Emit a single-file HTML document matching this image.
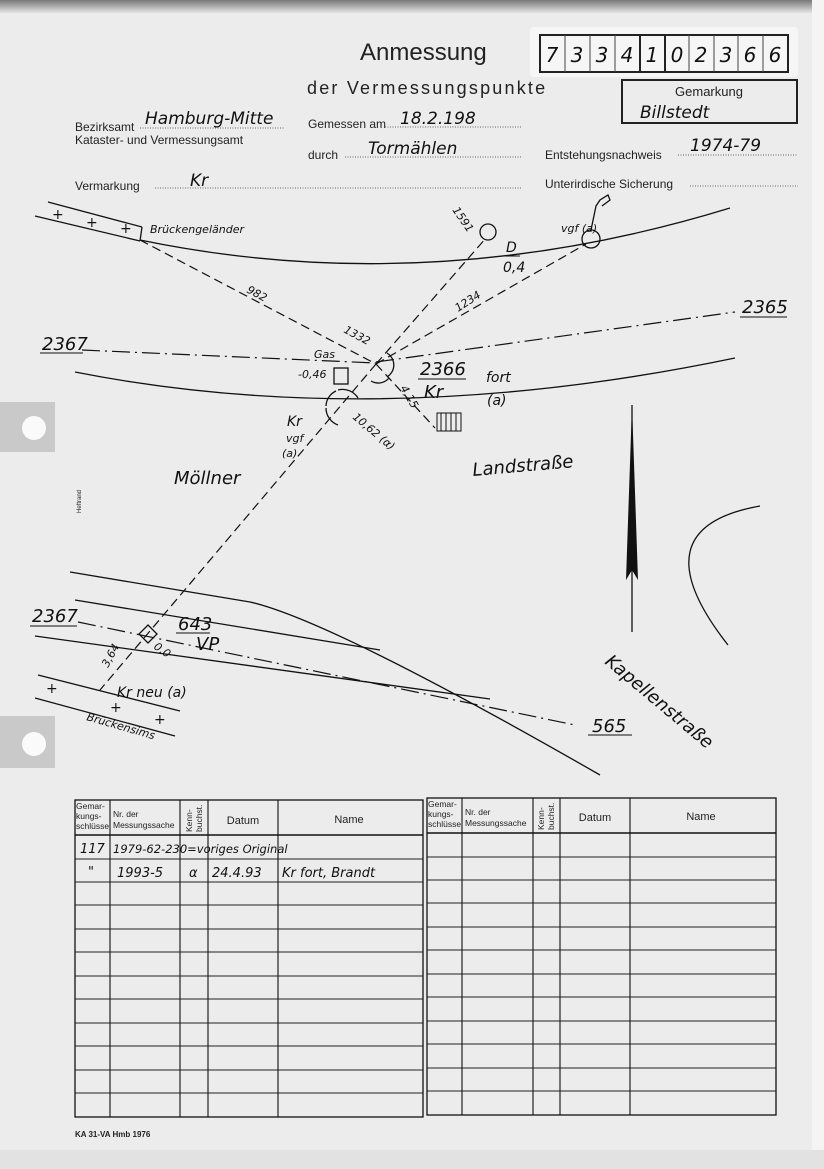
<!DOCTYPE html>
<html><head><meta charset="utf-8"><style>
html,body{margin:0;padding:0;}
body{width:824px;height:1169px;overflow:hidden;background:#ededed;}
svg{display:block}
.p{font-family:"Liberation Sans",sans-serif;fill:#222}
.h{font-family:"DejaVu Sans","Liberation Sans",sans-serif;font-style:oblique;fill:#111}
</style></head><body>
<svg width="824" height="1169" viewBox="0 0 824 1169" xmlns="http://www.w3.org/2000/svg">
<defs><linearGradient id="tg" x1="0" y1="0" x2="0" y2="1"><stop offset="0" stop-color="#777"/><stop offset="1" stop-color="#ededed"/></linearGradient></defs>
<rect x="0" y="0" width="824" height="1169" fill="#ececec"/>
<rect x="0" y="0" width="824" height="14" fill="url(#tg)"/>
<rect x="812" y="0" width="12" height="1169" fill="#f4f4f4"/>
<rect x="0" y="1150" width="824" height="19" fill="#e2e2e2"/>
<!-- left tabs -->
<rect x="0" y="402" width="55" height="50" fill="#c9c9c9"/><ellipse cx="34" cy="428" rx="12" ry="12" fill="#fafafa"/>
<rect x="0" y="716" width="55" height="52" fill="#c9c9c9"/><ellipse cx="34" cy="744" rx="12" ry="12" fill="#fafafa"/>

<!-- header -->
<text x="360" y="60" class="p" font-size="24" fill="#333">Anmessung</text>
<text x="307" y="94" class="p" font-size="18" letter-spacing="2.2">der Vermessungspunkte</text>
<rect x="530" y="27" width="268" height="50" fill="#f6f6f6" rx="4"/>
<rect x="540" y="35" width="248" height="37" fill="none" stroke="#222" stroke-width="2"/>
<g stroke="#444" stroke-width="1">
<line x1="565" y1="35" x2="565" y2="72"/><line x1="590" y1="35" x2="590" y2="72"/><line x1="615" y1="35" x2="615" y2="72"/>
<line x1="689" y1="35" x2="689" y2="72"/><line x1="714" y1="35" x2="714" y2="72"/><line x1="738" y1="35" x2="738" y2="72"/><line x1="763" y1="35" x2="763" y2="72"/>
</g>
<line x1="640" y1="35" x2="640" y2="72" stroke="#222" stroke-width="2"/>
<line x1="665" y1="35" x2="665" y2="72" stroke="#222" stroke-width="2"/>
<g class="h" font-size="20" text-anchor="middle">
<text x="552" y="62">7</text><text x="577" y="62">3</text><text x="602" y="62">3</text><text x="627" y="62">4</text><text x="652" y="62">1</text>
<text x="677" y="62">0</text><text x="701" y="62">2</text><text x="726" y="62">3</text><text x="750" y="62">6</text><text x="775" y="62">6</text>
</g>
<rect x="622" y="80" width="175" height="43" fill="none" stroke="#222" stroke-width="2"/>
<text x="709" y="96" class="p" font-size="13" text-anchor="middle">Gemarkung</text>
<text x="640" y="118" class="h" font-size="17">Billstedt</text>

<g class="p" font-size="12">
<text x="75" y="131">Bezirksamt</text>
<text x="75" y="144">Kataster- und Vermessungsamt</text>
<text x="308" y="128">Gemessen am</text>
<text x="308" y="159">durch</text>
<text x="75" y="190">Vermarkung</text>
<text x="545" y="159">Entstehungsnachweis</text>
<text x="545" y="188">Unterirdische Sicherung</text>
</g>
<g stroke="#666" stroke-width="1" stroke-dasharray="1 1.5">
<line x1="140" y1="128" x2="285" y2="128"/><line x1="385" y1="127" x2="522" y2="127"/>
<line x1="345" y1="157" x2="522" y2="157"/><line x1="155" y1="188" x2="522" y2="188"/>
<line x1="678" y1="155" x2="798" y2="155"/><line x1="690" y1="186" x2="798" y2="186"/>
</g>
<g class="h" font-size="17">
<text x="145" y="124">Hamburg-Mitte</text>
<text x="400" y="124">18.2.198</text>
<text x="368" y="154">Tormählen</text>
<text x="190" y="186">Kr</text>
<text x="690" y="151">1974-79</text>
</g>

<!-- sketch -->
<g fill="none" stroke="#111" stroke-width="1.3">
<path d="M140,240 Q430,300 730,208"/>
<path d="M75,372 Q380,432 735,358"/>
<line x1="48" y1="202" x2="142" y2="227"/><line x1="35" y1="216" x2="140" y2="241"/><line x1="142" y1="227" x2="140" y2="241"/>
<circle cx="488" cy="232" r="8"/>
<circle cx="591" cy="239" r="9"/>
<path d="M591,230 L596,206 L600,200 L608,195 L610,200 L602,206"/>
<path d="M387,353 A14,14 0 0,1 387,377"/><path d="M371,381 A14,14 0 0,0 389,378"/>
<path d="M338,390 A18,18 0 0,1 358,398"/><path d="M326,408 A18,18 0 0,0 338,425"/><path d="M326,406 A17,17 0 0,1 336,391"/>
<rect x="334" y="368" width="14" height="16"/>
<rect x="437" y="413" width="24" height="18" stroke-width="1"/>
<path d="M70,572 L250,602 Q330,620 600,775"/>
<line x1="75" y1="600" x2="380" y2="650"/>
<line x1="35" y1="636" x2="490" y2="699"/>
<line x1="38" y1="675" x2="180" y2="711"/><line x1="35" y1="698" x2="175" y2="736"/>
<path d="M148,625 L157,634 L148,643 L139,634 Z"/>
<path d="M760,506 Q636,528 728,645"/>
<line x1="632" y1="405" x2="632" y2="632"/>
</g>
<g stroke="#111" stroke-width="1">
<line x1="441" y1="413" x2="441" y2="431"/><line x1="446" y1="413" x2="446" y2="431"/><line x1="451" y1="413" x2="451" y2="431"/><line x1="456" y1="413" x2="456" y2="431"/>
</g>
<path d="M632,405 L638,580 L632,570 L626,580 Z" fill="#111"/>
<!-- dashed lines -->
<g fill="none" stroke="#111" stroke-width="1.2" stroke-dasharray="9 5">
<line x1="140" y1="240" x2="376" y2="364"/>
<line x1="376" y1="364" x2="486" y2="238"/>
<line x1="376" y1="364" x2="586" y2="244"/>
<line x1="376" y1="364" x2="435" y2="428"/>
<line x1="376" y1="364" x2="100" y2="690"/>
</g>
<g fill="none" stroke="#111" stroke-width="1.2" stroke-dasharray="18 5 2 5">
<line x1="82" y1="350" x2="376" y2="363"/>
<line x1="376" y1="362" x2="735" y2="312"/>
<line x1="78" y1="622" x2="575" y2="725"/>
</g>
<!-- labels -->
<g class="h" font-size="11">
<text x="150" y="233">Brückengeländer</text>
<text x="0" y="0" transform="translate(246,292) rotate(28)">982</text>
<text x="0" y="0" transform="translate(343,332) rotate(28)">1332</text>
<text x="0" y="0" transform="translate(458,312) rotate(-33)">1234</text>
<text x="0" y="0" transform="translate(452,210) rotate(55)">1591</text>
<text x="0" y="0" transform="translate(400,388) rotate(60)">4,15</text>
<text x="0" y="0" transform="translate(352,418) rotate(40)">10,62 (α)</text>
<text x="0" y="0" transform="translate(108,668) rotate(-62)">3,64</text>
<text x="0" y="0" transform="translate(153,648) rotate(35)">0,0</text>
<text x="314" y="358">Gas</text>
<text x="298" y="378">-0,46</text>
<text x="561" y="232">vgf (a)</text>
<text x="286" y="442">vgf</text>
<text x="282" y="457">(a)</text>
<text x="0" y="0" transform="translate(86,720) rotate(16)">Brückensims</text>
</g>
<g class="h" font-size="14">
<text x="506" y="252">D</text><line x1="504" y1="256" x2="520" y2="256" stroke="#111"/>
<text x="503" y="272">0,4</text>
<text x="287" y="426">Kr</text>
<text x="486" y="382">fort</text>
<text x="487" y="405">(a)</text>
<text x="117" y="697">Kr neu (a)</text>
<text x="46" y="693">+</text><text x="110" y="712">+</text><text x="154" y="724">+</text>
<text x="52" y="219">+</text><text x="86" y="227">+</text><text x="120" y="233">+</text>
</g>
<g class="h" font-size="18">
<text x="42" y="350">2367</text><line x1="40" y1="353" x2="83" y2="353" stroke="#111"/>
<text x="742" y="313">2365</text><line x1="740" y1="317" x2="787" y2="317" stroke="#111"/>
<text x="420" y="375">2366</text><line x1="418" y1="379" x2="466" y2="379" stroke="#111"/>
<text x="424" y="398">Kr</text>
<text x="32" y="622">2367</text><line x1="30" y1="626" x2="77" y2="626" stroke="#111"/>
<text x="178" y="630">643</text><line x1="176" y1="633" x2="210" y2="633" stroke="#111"/>
<text x="196" y="650">VP</text>
<text x="592" y="732">565</text><line x1="588" y1="735" x2="632" y2="735" stroke="#111"/>
<text x="174" y="484">Möllner</text>
<text x="0" y="0" transform="translate(473,476) rotate(-5)">Landstraße</text>
<text x="0" y="0" transform="translate(604,663) rotate(40)">Kapellenstraße</text>
</g>
<text x="0" y="0" class="p" font-size="6" transform="translate(81,513) rotate(-90)">Heftrand</text>

<!-- tables -->
<g fill="none" stroke="#111" stroke-width="1.3">
<rect x="75" y="800" width="348" height="317"/>
<rect x="427" y="798" width="349" height="317"/>
</g>
<g stroke="#111" stroke-width="1.1">
<line x1="110" y1="800" x2="110" y2="1117"/><line x1="180" y1="800" x2="180" y2="1117"/><line x1="208" y1="800" x2="208" y2="1117"/><line x1="278" y1="800" x2="278" y2="1117"/>
<line x1="462" y1="798" x2="462" y2="1115"/><line x1="533" y1="798" x2="533" y2="1115"/><line x1="560" y1="798" x2="560" y2="1115"/><line x1="630" y1="798" x2="630" y2="1115"/>
<line x1="75" y1="835" x2="423" y2="835" stroke-width="1.6"/>
<line x1="427" y1="833" x2="776" y2="833" stroke-width="1.6"/>
</g>
<g stroke="#222" stroke-width="1">
<line x1="75" y1="859" x2="423" y2="859"/><line x1="75" y1="882" x2="423" y2="882"/><line x1="75" y1="905" x2="423" y2="905"/><line x1="75" y1="929" x2="423" y2="929"/><line x1="75" y1="952" x2="423" y2="952"/><line x1="75" y1="976" x2="423" y2="976"/><line x1="75" y1="999" x2="423" y2="999"/><line x1="75" y1="1023" x2="423" y2="1023"/><line x1="75" y1="1046" x2="423" y2="1046"/><line x1="75" y1="1070" x2="423" y2="1070"/><line x1="75" y1="1093" x2="423" y2="1093"/>
<line x1="427" y1="857" x2="776" y2="857"/><line x1="427" y1="880" x2="776" y2="880"/><line x1="427" y1="903" x2="776" y2="903"/><line x1="427" y1="927" x2="776" y2="927"/><line x1="427" y1="950" x2="776" y2="950"/><line x1="427" y1="974" x2="776" y2="974"/><line x1="427" y1="997" x2="776" y2="997"/><line x1="427" y1="1021" x2="776" y2="1021"/><line x1="427" y1="1044" x2="776" y2="1044"/><line x1="427" y1="1068" x2="776" y2="1068"/><line x1="427" y1="1091" x2="776" y2="1091"/>
</g>
<g class="p" font-size="8.5">
<text x="76" y="809">Gemar-</text><text x="76" y="819">kungs-</text><text x="76" y="829">schlüssel</text>
<text x="113" y="817">Nr. der</text><text x="113" y="828">Messungssache</text>
<text x="0" y="0" transform="translate(192,832) rotate(-90)">Kenn-</text><text x="0" y="0" transform="translate(202,832) rotate(-90)">buchst.</text>
<text x="428" y="807">Gemar-</text><text x="428" y="817">kungs-</text><text x="428" y="827">schlüssel</text>
<text x="465" y="815">Nr. der</text><text x="465" y="826">Messungssache</text>
<text x="0" y="0" transform="translate(544,830) rotate(-90)">Kenn-</text><text x="0" y="0" transform="translate(554,830) rotate(-90)">buchst.</text>
</g>
<g class="p" font-size="11" text-anchor="middle">
<text x="243" y="824">Datum</text><text x="349" y="823">Name</text>
<text x="595" y="821">Datum</text><text x="701" y="820">Name</text>
</g>
<g class="h" font-size="13">
<text x="80" y="853">117</text>
<text x="113" y="853" font-size="11.5">1979-62-230=voriges Original</text>
<text x="88" y="876">"</text>
<text x="117" y="877">1993-5</text>
<text x="189" y="877">α</text>
<text x="212" y="877">24.4.93</text>
<text x="282" y="877">Kr fort, Brandt</text>
</g>
<text x="75" y="1137" class="p" font-size="8" font-weight="bold">KA 31-VA Hmb 1976</text>
</svg>
</body></html>
